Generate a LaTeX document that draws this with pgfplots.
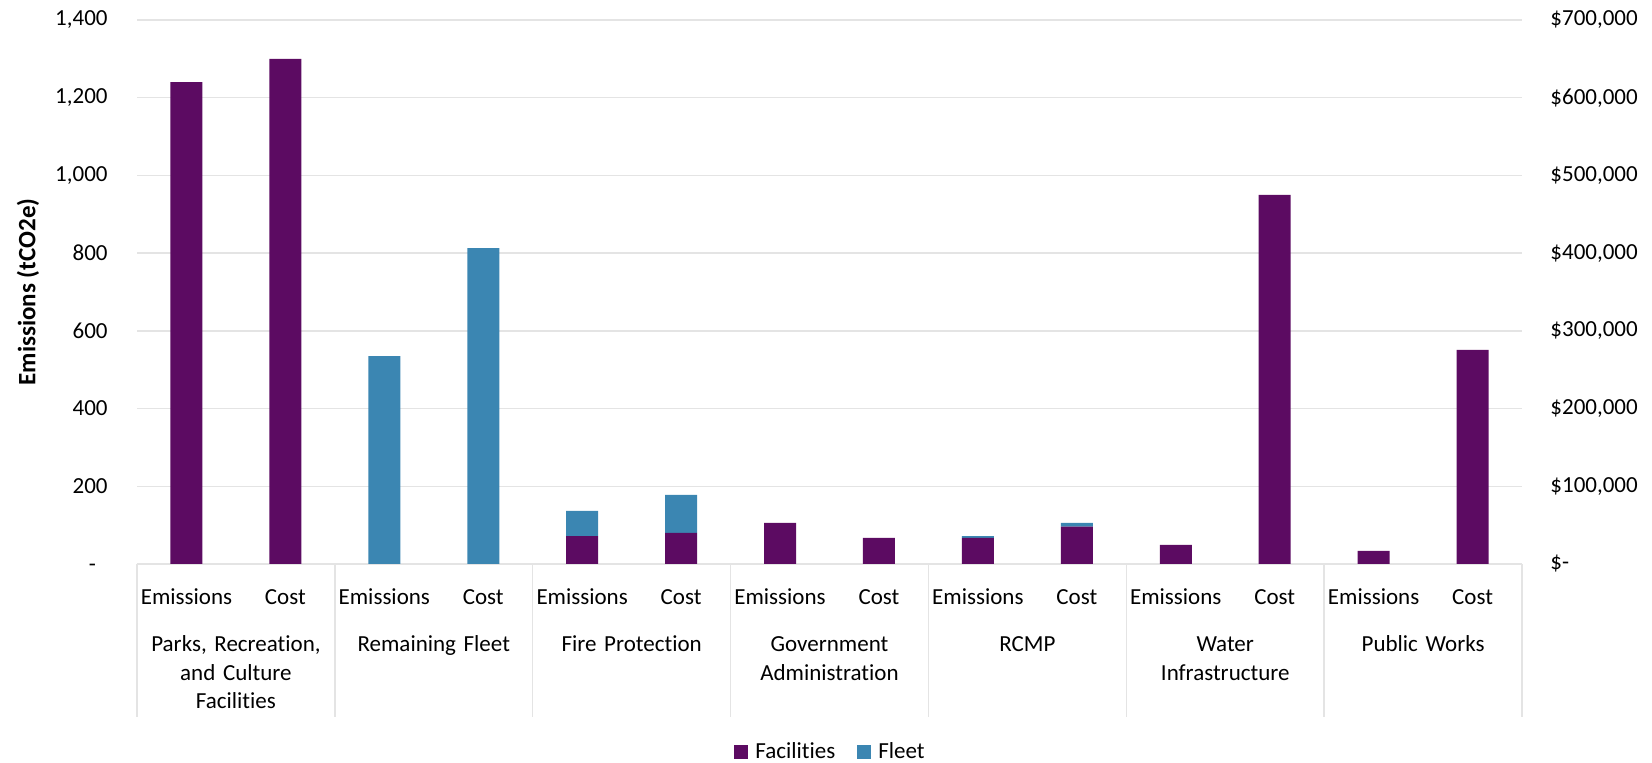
\documentclass[border=0pt]{standalone}
\usepackage{pgfplots}
\pgfplotsset{compat=1.18}
\usepackage{fontspec}
\setmainfont{Carlito}[Ligatures={NoCommon}]

\definecolor{facil}{HTML}{5C0B62}
\definecolor{fleet}{HTML}{3B86B2}
\definecolor{gridgray}{HTML}{E4E4E4}

% Department names under each pair of bars
\tikzset{grp/.style={anchor=base, text width=90pt, align=center,
    inner sep=0pt, font=\fontsize{11.5}{14.1}\selectfont, yshift=-44pt}}

\begin{document}
\fontsize{11.5}{13.8}\selectfont
\begin{tikzpicture}
\useasboundingbox (-68.5pt,-99.5pt) rectangle (757.5pt,282pt);

% Emissions (tCO2e), left scale
\begin{axis}[
  scale only axis, width=692.5pt, height=272pt,
  xmin=-0.5, xmax=13.5,
  ybar stacked, bar width=16pt,
  major tick length=0pt,
  clip=false,
  ymin=0, ymax=1400,
  axis x line*=bottom, axis y line*=left,
  x axis line style={draw=gridgray, line width=0.75pt},
  y axis line style={draw=none},
  xtick={0,...,13},
  xticklabels={Emissions,Cost,Emissions,Cost,Emissions,Cost,Emissions,Cost,Emissions,Cost,Emissions,Cost,Emissions,Cost},
  xticklabel style={anchor=base, inner sep=0pt, yshift=-20.5pt},
  extra x ticks={-0.5,1.5,3.5,5.5,7.5,9.5,11.5,13.5},
  extra x tick labels={},
  extra x tick style={major tick length=76.5pt, tick align=outside,
    tick style={draw=gridgray, line width=0.75pt}, grid=none},
  ytick={0,200,...,1400},
  yticklabels={{-\phantom{0}},200,400,600,800,{1,000},{1,200},{1,400}},
  yticklabel style={anchor=east, inner sep=0pt, xshift=-14.5pt},
  ymajorgrids, grid style={draw=gridgray, line width=0.75pt},
  ylabel={Emissions (tCO2e)},
  ylabel style={font=\bfseries\fontsize{12.5}{15}\selectfont,
    at={(axis description cs:-0.0787,0.5)}, anchor=center},
  legend columns=2,
  legend style={at={(axis description cs:0.5,-0.3456)}, anchor=center,
    draw=none, fill=none, inner sep=0pt,
    nodes={inner sep=0pt},
    /tikz/every odd column/.append style={column sep=3.5pt},
    /tikz/every even column/.append style={column sep=11pt}},
  legend image code/.code={\fill[#1] (0pt,-3.5pt) rectangle (7pt,3.5pt);},
]
\addplot[fill=facil, draw=none] coordinates {
  (0,1240) (2,0) (4,72) (6,106) (8,67) (10,49) (12,34)};
\addlegendentry{Facilities}
\addplot[fill=fleet, draw=none] coordinates {
  (0,0) (2,535) (4,65) (6,0) (8,5) (10,0) (12,0)};
\addlegendentry{Fleet}

\node[grp] at (axis cs:0.5,0)  {Parks, Recreation,\\and Culture\\Facilities};
\node[grp] at (axis cs:2.5,0)  {Remaining Fleet};
\node[grp] at (axis cs:4.5,0)  {Fire Protection};
\node[grp] at (axis cs:6.5,0)  {Government\\Administration};
\node[grp] at (axis cs:8.5,0)  {RCMP};
\node[grp] at (axis cs:10.5,0) {Water\\Infrastructure};
\node[grp] at (axis cs:12.5,0) {Public Works};
\end{axis}

% Cost ($), right scale
\begin{axis}[
  scale only axis, width=692.5pt, height=272pt,
  xmin=-0.5, xmax=13.5,
  ybar stacked, bar width=16pt,
  major tick length=0pt,
  ymin=0, ymax=700000,
  axis x line=none, axis y line*=right,
  y axis line style={draw=none},
  ytick={0,100000,...,700000},
  yticklabels={{\$-},{\$100,000},{\$200,000},{\$300,000},{\$400,000},{\$500,000},{\$600,000},{\$700,000}},
  yticklabel style={anchor=west, inner sep=0pt, xshift=14pt},
  scaled y ticks=false,
]
\addplot[fill=facil, draw=none] coordinates {
  (1,650000) (3,0) (5,40000) (7,33500) (9,48000) (11,475000) (13,275500)};
\addplot[fill=fleet, draw=none] coordinates {
  (1,0) (3,406500) (5,49000) (7,0) (9,5000) (11,0) (13,0)};
\end{axis}
\end{tikzpicture}
\end{document}
